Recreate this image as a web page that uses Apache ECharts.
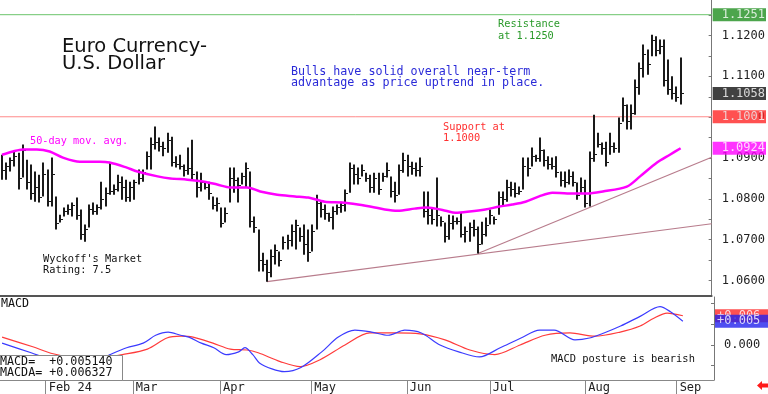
<!DOCTYPE html>
<html><head><meta charset="utf-8">
<script src="https://cdn.jsdelivr.net/npm/echarts@6/dist/echarts.min.js"></script>
<style>html,body{margin:0;padding:0;background:#fff}#c{width:768px;height:394px}</style>
</head><body><div id="c"></div>
<script>
// ---- data (bar index = trading day, 0 = Jan 17 2024) ----
const highs = [
1.0908,1.0889,1.0901,1.0916,1.0913,1.0933,1.0896,1.0884,1.0867,1.0859,
1.0889,1.0872,1.0901,1.0806,1.0761,1.0779,1.0786,1.0791,1.0803,1.0774,
1.0737,1.0786,1.0791,1.0786,1.0842,1.0828,1.0889,1.0835,1.0859,1.0855,
1.0847,1.0842,1.0847,1.0872,1.0872,1.0916,1.0950,1.0977,1.0950,1.0940,
1.0962,1.0952,1.0904,1.0908,1.0884,1.0926,1.0945,1.0867,1.0864,1.0842,
1.0842,1.0806,1.0803,1.0779,1.0779,1.0877,1.0877,1.0852,1.0864,1.0889,
1.0867,1.0757,1.0725,1.0668,1.0651,1.0676,1.0688,1.0671,1.0708,1.0712,
1.0737,1.0749,1.0730,1.0737,1.0725,1.0737,1.0810,1.0793,1.0786,1.0766,
1.0781,1.0786,1.0793,1.0823,1.0889,1.0884,1.0877,1.0884,1.0864,1.0859,
1.0864,1.0864,1.0864,1.0889,1.0855,1.0842,1.0884,1.0913,1.0908,1.0891,
1.0889,1.0901,1.0818,1.0818,1.0779,1.0852,1.0757,1.0742,1.0761,1.0759,
1.0754,1.0766,1.0732,1.0742,1.0749,1.0732,1.0744,1.0754,1.0774,1.0757,
1.0818,1.0818,1.0847,1.0842,1.0840,1.0830,1.0901,1.0901,1.0926,1.0908,
1.0950,1.0921,1.0904,1.0901,1.0904,1.0867,1.0867,1.0872,1.0867,1.0840,
1.0852,1.0847,1.0916,1.1006,1.0962,1.0938,1.0940,1.0962,1.0938,1.0999,
1.1048,1.1031,1.1031,1.1092,1.1134,1.1178,1.1166,1.1202,1.1198,1.1190,
1.1190,1.1141,1.1100,1.1075,1.1146];
const lows = [
1.0847,1.0847,1.0867,1.0879,1.0823,1.0852,1.0823,1.0798,1.0793,1.0791,
1.0806,1.0781,1.0781,1.0725,1.0742,1.0757,1.0761,1.0757,1.0749,1.0700,
1.0695,1.0730,1.0761,1.0761,1.0774,1.0781,1.0810,1.0810,1.0818,1.0798,
1.0793,1.0793,1.0798,1.0835,1.0842,1.0872,1.0872,1.0921,1.0916,1.0904,
1.0913,1.0879,1.0877,1.0872,1.0855,1.0859,1.0847,1.0803,1.0818,1.0823,
1.0798,1.0774,1.0769,1.0730,1.0742,1.0791,1.0815,1.0791,1.0835,1.0828,
1.0730,1.0717,1.0622,1.0622,1.0597,1.0608,1.0639,1.0634,1.0676,1.0676,
1.0683,1.0676,1.0695,1.0663,1.0646,1.0671,1.0725,1.0754,1.0749,1.0744,
1.0725,1.0761,1.0766,1.0769,1.0815,1.0835,1.0835,1.0855,1.0842,1.0815,
1.0815,1.0810,1.0842,1.0852,1.0803,1.0791,1.0810,1.0864,1.0855,1.0859,
1.0855,1.0855,1.0754,1.0737,1.0737,1.0732,1.0732,1.0693,1.0700,1.0725,
1.0737,1.0705,1.0693,1.0695,1.0708,1.0666,1.0688,1.0708,1.0737,1.0737,
1.0761,1.0781,1.0793,1.0806,1.0803,1.0810,1.0823,1.0855,1.0879,1.0891,
1.0891,1.0879,1.0872,1.0872,1.0852,1.0830,1.0828,1.0835,1.0830,1.0798,
1.0815,1.0779,1.0781,1.0891,1.0926,1.0908,1.0879,1.0908,1.0913,1.0913,
1.0989,1.0970,1.0970,1.1006,1.1055,1.1097,1.1104,1.1149,1.1149,1.1154,
1.1075,1.1055,1.1043,1.1038,1.1031];
const closes = [
1.0870,1.0880,1.0895,1.0905,1.0850,1.0920,1.0840,1.0815,1.0830,1.0805,
1.0860,1.0795,1.0860,1.0740,1.0750,1.0770,1.0775,1.0785,1.0760,1.0715,
1.0725,1.0775,1.0770,1.0780,1.0800,1.0815,1.0820,1.0825,1.0840,1.0830,
1.0805,1.0830,1.0840,1.0850,1.0865,1.0905,1.0935,1.0940,1.0930,1.0925,
1.0945,1.0890,1.0885,1.0880,1.0870,1.0875,1.0860,1.0830,1.0840,1.0830,
1.0815,1.0785,1.0790,1.0740,1.0765,1.0850,1.0845,1.0835,1.0855,1.0875,
1.0745,1.0730,1.0650,1.0640,1.0620,1.0660,1.0675,1.0650,1.0695,1.0700,
1.0720,1.0735,1.0710,1.0690,1.0670,1.0720,1.0790,1.0775,1.0765,1.0755,
1.0770,1.0780,1.0785,1.0815,1.0875,1.0860,1.0850,1.0870,1.0850,1.0830,
1.0850,1.0825,1.0855,1.0870,1.0820,1.0810,1.0870,1.0895,1.0880,1.0875,
1.0870,1.0880,1.0770,1.0760,1.0750,1.0760,1.0745,1.0710,1.0740,1.0745,
1.0745,1.0715,1.0720,1.0730,1.0725,1.0690,1.0715,1.0735,1.0760,1.0750,
1.0805,1.0800,1.0830,1.0825,1.0815,1.0820,1.0880,1.0875,1.0905,1.0900,
1.0920,1.0895,1.0885,1.0880,1.0865,1.0845,1.0840,1.0855,1.0840,1.0810,
1.0830,1.0790,1.0900,1.0910,1.0935,1.0925,1.0890,1.0930,1.0925,1.0985,
1.1030,1.0990,1.1010,1.1075,1.1120,1.1155,1.1130,1.1190,1.1165,1.1175,
1.1090,1.1070,1.1060,1.1050,1.1058];

// 50-day moving average, read at sample bars
const maIdx = [0,2.6,5,8.4,11.5,14.7,18.8,23.6,26,30,32.7,37.6,40.7,44.8,48.9,52,55.2,59.2,62.4,66.5,70.8,74,78,82.1,86,90.1,92.5,95.6,99.7,102.4,104.8,107.2,109.6,113,116.8,120.2,123.3,126.5,129.8,133,136.6,141.4,145.2,151,154.2,158.3,161.4,164];
const maVal = [1.0908,1.0916,1.0921,1.0921,1.0916,1.0901,1.0891,1.0891,1.0889,1.0877,1.0867,1.0855,1.0850,1.0847,1.0842,1.0835,1.0828,1.0828,1.0818,1.0810,1.0806,1.0803,1.0793,1.0791,1.0786,1.0779,1.0774,1.0771,1.0776,1.0779,1.0776,1.0771,1.0766,1.0769,1.0774,1.0781,1.0786,1.0793,1.0806,1.0815,1.0813,1.0813,1.0818,1.0830,1.0855,1.0889,1.0908,1.0924];

// MACD (blue) and MACDA signal (red), read at sample bars
const macdIdx = [0,7,12,18,24,26,30,34,37,40,43,45,48,51,54,57,58.5,60.4,62,65,68,72,77,81,85,89,93,97,101,105.5,110,115,120,125,129.5,133,138,141.5,145,149,153.7,158.5,161,164];
const macdVal = [0.0004,-0.0017,-0.0032,-0.0038,-0.0030,-0.0021,-0.0006,0.0004,0.0021,0.0028,0.0021,0.0017,0.0004,-0.0006,-0.0021,-0.0015,-0.0006,-0.0021,-0.0039,-0.0052,-0.0058,-0.0049,-0.0015,0.0017,0.0032,0.0028,0.0021,0.0032,0.0026,0.0000,-0.0015,-0.0026,-0.0006,0.0015,0.0032,0.0032,0.0011,0.0015,0.0026,0.0041,0.0062,0.0083,0.0072,0.005140];
const sigIdx = [0,7.4,12.3,18,24,29,35,39.7,43,46,50.8,55,59,61.7,67,71.8,76.6,82.6,88.6,94.7,100.7,106.7,112.7,118.7,124.8,130.8,136.8,142.8,148.9,153.7,157,160.2,164];
const sigVal = [0.0017,-0.0004,-0.0019,-0.0028,-0.0028,-0.0021,-0.0009,0.0015,0.0019,0.0017,0.0004,-0.0009,-0.0011,-0.0017,-0.0036,-0.0047,-0.0032,0.0000,0.0026,0.0026,0.0024,0.0011,-0.0011,-0.0021,0.0000,0.0021,0.0026,0.0019,0.0028,0.0041,0.0058,0.0069,0.006327];

const resistance = 1.1251, support = 1.1001, lastClose = 1.1058, maLast = 1.0924;
const macdLast = 0.005140, macdaLast = 0.006327;
const trend1 = [[64,1.0597],[171.5,1.0739]];
const trend2 = [[115,1.0666],[171.5,1.0902]];

const monthIdx = [11,32,53,75,98,118,141,163];
const monthLabels = ['Feb 24','Mar','Apr','May','Jun','Jul','Aug','Sep'];
const priceLabels = [1.06,1.07,1.08,1.09,1.10,1.11,1.12];
const priceMinor = [1.06,1.065,1.07,1.075,1.08,1.085,1.09,1.095,1.10,1.105,1.11,1.115,1.12,1.125];
const macdLabels = [0];
const macdMinor = [-0.0045,0,0.0045,0.009];

// ---- chart ----
const MONO = '"DejaVu Sans Mono", monospace';
const X_MIN = -0.5, X_MAX = 171.5;
const barData = highs.map((h,i)=>[i,h,lows[i],closes[i]]);
const zip = (a,b)=>a.map((x,i)=>[x,b[i]]);
const monthBounds = monthIdx.map(m=>m-0.5);
const sgn = (v,d) => (v>=0?'+':'') + v.toFixed(d);

function hLine(v,color){
  return {type:'line',xAxisIndex:0,yAxisIndex:0,data:[[X_MIN,v],[X_MAX,v]],showSymbol:false,silent:true,
    lineStyle:{color:color,width:1},z:1};
}
function tag(gi,v,bg,text,z,padL){
  return {type:'scatter',xAxisIndex:gi,yAxisIndex:gi,clip:false,silent:true,symbolSize:0,zlevel:1,z:z||10,
    data:[[X_MAX,v]],
    label:{show:true,position:'right',distance:1,formatter:()=>text,color:'#fff',backgroundColor:bg,
      padding:[1,10-padL,0,padL],fontFamily:MONO,fontSize:12,lineHeight:12}};
}

const chart = echarts.init(document.getElementById('c'));
chart.setOption({
  animation:false,
  backgroundColor:'#fff',
  grid:[{left:0,top:0,width:714,height:296},{left:0,top:297,width:714,height:83}],
  xAxis:[
    {gridIndex:0,type:'value',min:X_MIN,max:X_MAX,
      axisLine:{show:true,onZero:false,lineStyle:{color:'#555',width:2}},
      axisTick:{show:false},axisLabel:{show:false},splitLine:{show:false}},
    {gridIndex:1,type:'value',min:X_MIN,max:X_MAX,
      axisLine:{show:true,onZero:false,lineStyle:{color:'#888',width:1}},
      axisTick:{show:true,customValues:monthBounds,length:14,lineStyle:{color:'#888'}},
      axisLabel:{show:true,customValues:monthBounds,align:'left',margin:2,padding:[0,0,0,3],
        fontFamily:MONO,fontSize:12,color:'#222',
        formatter:v=>{const k=monthBounds.findIndex(m=>Math.abs(m-v)<0.01);return k>=0?monthLabels[k]:'';}},
      splitLine:{show:false}}
  ],
  yAxis:[
    {gridIndex:0,type:'value',position:'right',min:1.0562,max:1.1287,
      axisLine:{show:true,onZero:false,lineStyle:{color:'#777'}},
      axisTick:{show:true,inside:true,length:3,customValues:priceMinor,lineStyle:{color:'#777'}},
      axisLabel:{customValues:priceLabels,formatter:v=>v.toFixed(4),margin:10,fontFamily:MONO,fontSize:12,color:'#222'},
      splitLine:{show:false}},
    {gridIndex:1,type:'value',position:'right',min:-0.0076,max:0.0104,
      axisLine:{show:true,onZero:false,lineStyle:{color:'#777'}},
      axisTick:{show:true,inside:true,length:3,customValues:macdMinor,lineStyle:{color:'#777'}},
      axisLabel:{customValues:macdLabels,formatter:v=>v.toFixed(3),margin:10,fontFamily:MONO,fontSize:12,color:'#222'},
      splitLine:{show:false}}
  ],
  series:[
    hLine(resistance,'#6cc46c'),
    hLine(support,'#ff8a8a'),
    {type:'line',xAxisIndex:0,yAxisIndex:0,data:trend1,showSymbol:false,silent:true,
      lineStyle:{color:'#b87c8c',width:1.2},z:1},
    {type:'line',xAxisIndex:0,yAxisIndex:0,data:trend2,showSymbol:false,silent:true,
      lineStyle:{color:'#b87c8c',width:1.2},z:1},
    {type:'custom',xAxisIndex:0,yAxisIndex:0,data:barData,encode:{x:0,y:[1,2,3]},z:2,
      renderItem:function(params,api){
        const x=api.value(0);
        const hi=api.coord([x,api.value(1)]), lo=api.coord([x,api.value(2)]), cl=api.coord([x,api.value(3)]);
        const px=Math.round(hi[0]); const cy=Math.round(cl[1])+0.5;
        return {type:'group',children:[
          {type:'line',shape:{x1:px,y1:hi[1],x2:px,y2:lo[1]},style:{stroke:'#1a1a1a',lineWidth:2}},
          {type:'line',shape:{x1:px+1,y1:cy,x2:px+3,y2:cy},style:{stroke:'#1a1a1a',lineWidth:1}}
        ]};
      }},
    {type:'line',xAxisIndex:0,yAxisIndex:0,data:zip(maIdx,maVal),showSymbol:false,smooth:0.3,silent:true,
      lineStyle:{color:'#ff00ff',width:2.5},z:3},
    tag(0,resistance,'#1f8f1f',resistance.toFixed(4),10,9),
    tag(0,support,'#ff2626',support.toFixed(4),10,9),
    tag(0,lastClose,'#111111',lastClose.toFixed(4),10,9),
    tag(0,maLast,'#ff00ff',maLast.toFixed(4),10,9),
    {type:'line',xAxisIndex:1,yAxisIndex:1,data:zip(sigIdx,sigVal),showSymbol:false,smooth:0.3,silent:true,
      lineStyle:{color:'#ff3b3b',width:1.2},z:4},
    {type:'line',xAxisIndex:1,yAxisIndex:1,data:zip(macdIdx,macdVal),showSymbol:false,smooth:0.3,silent:true,
      lineStyle:{color:'#3b3bff',width:1.2},z:5},
    tag(1,macdaLast,'#ff2626',sgn(macdaLast,3),10,2),
    tag(1,macdLast,'#2222ee',sgn(macdLast,3),11,2)
  ],
  graphic:[
    {type:'text',x:62,y:47,style:{text:'Euro Currency-',font:'19.5px "DejaVu Sans"',fill:'#111',textVerticalAlign:'middle'}},
    {type:'text',x:62,y:64,style:{text:'U.S. Dollar',font:'19.5px "DejaVu Sans"',fill:'#111',textVerticalAlign:'middle'}},
    {type:'text',x:291,y:72,style:{text:'Bulls have solid overall near-term',font:'11.7px "DejaVu Sans Mono"',fill:'#2a2ad8',textVerticalAlign:'middle'}},
    {type:'text',x:291,y:83,style:{text:'advantage as price uptrend in place.',font:'11.7px "DejaVu Sans Mono"',fill:'#2a2ad8',textVerticalAlign:'middle'}},
    {type:'text',x:498,y:24,style:{text:'Resistance',font:'10.3px "DejaVu Sans Mono"',fill:'#2a9a2a',textVerticalAlign:'middle'}},
    {type:'text',x:498,y:36,style:{text:'at 1.1250',font:'10.3px "DejaVu Sans Mono"',fill:'#2a9a2a',textVerticalAlign:'middle'}},
    {type:'text',x:443,y:127,style:{text:'Support at',font:'10.3px "DejaVu Sans Mono"',fill:'#ff3030',textVerticalAlign:'middle'}},
    {type:'text',x:443,y:138,style:{text:'1.1000',font:'10.3px "DejaVu Sans Mono"',fill:'#ff3030',textVerticalAlign:'middle'}},
    {type:'text',x:30,y:141,style:{text:'50-day mov. avg.',font:'10.2px "DejaVu Sans Mono"',fill:'#ff00ff',textVerticalAlign:'middle'}},
    {type:'text',x:43,y:259,style:{text:"Wyckoff's Market",font:'10.3px "DejaVu Sans Mono"',fill:'#111',textVerticalAlign:'middle'}},
    {type:'text',x:43,y:270,style:{text:'Rating: 7.5',font:'10.3px "DejaVu Sans Mono"',fill:'#111',textVerticalAlign:'middle'}},
    {type:'text',x:1,y:304,style:{text:'MACD',font:'11.7px "DejaVu Sans Mono"',fill:'#111',textVerticalAlign:'middle'}},
    {type:'text',x:551,y:359,style:{text:'MACD posture is bearish',font:'10.4px "DejaVu Sans Mono"',fill:'#111',textVerticalAlign:'middle'}},
    {type:'rect',z:100,shape:{x:-1,y:355.5,width:123.5,height:25},style:{fill:'#fff',stroke:'#888',lineWidth:1}},
    {type:'text',z:101,x:0,y:362,style:{text:'MACD=  '+sgn(macdLast,6),font:'11.7px "DejaVu Sans Mono"',fill:'#111',textVerticalAlign:'middle'}},
    {type:'text',z:101,x:0,y:373,style:{text:'MACDA= '+sgn(macdaLast,6),font:'11.7px "DejaVu Sans Mono"',fill:'#111',textVerticalAlign:'middle'}},
    {type:'polygon',z:100,shape:{points:[[757,385.5],[762,381],[762,383.5],[768,383.5],[768,387.5],[762,387.5],[762,390]]},style:{fill:'#ff1a1a'}}
  ]
});
</script>
</body></html>
